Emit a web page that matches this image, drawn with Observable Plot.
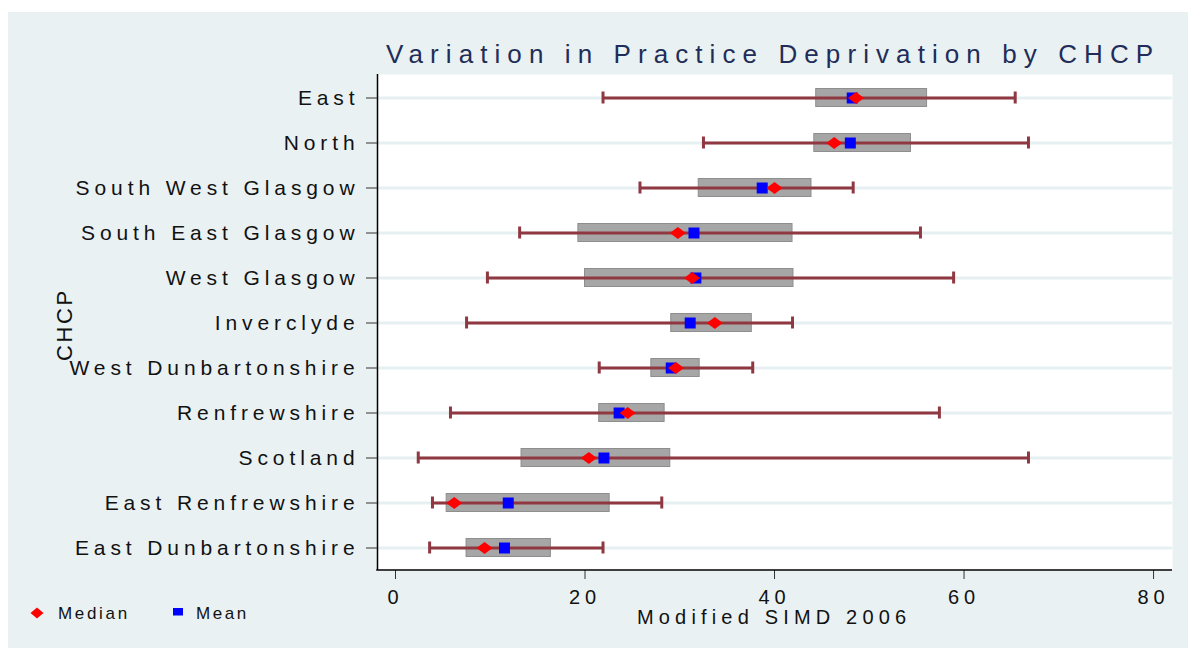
<!DOCTYPE html>
<html><head><meta charset="utf-8">
<script src="https://cdn.jsdelivr.net/npm/d3@7"></script>
<script src="https://cdn.jsdelivr.net/npm/@observablehq/plot@0.6"></script>
<style>
body{margin:0;background:#fff;}
#wrap{position:relative;width:1188px;height:650px;overflow:hidden;font-family:"Liberation Sans",Arial,sans-serif;}
#panel{position:absolute;left:8px;top:12px;width:1180px;height:636px;background:#e9f1f3;}
#panel svg{position:absolute;left:0;top:0;}
#panel svg text{letter-spacing:4.9px;}
</style></head><body><div id="wrap"><div id="panel"></div></div>
<script>
const areas = ["East","North","South West Glasgow","South East Glasgow","West Glasgow","Inverclyde","West Dunbartonshire","Renfrewshire","Scotland","East Renfrewshire","East Dunbartonshire"];
const minimum = [21.9,32.5,25.8,13.1,9.7,7.5,21.5,5.8,2.4,3.9,3.6];
const lowerQuartile = [44.4,44.2,32.0,19.3,20.0,29.1,27.0,21.5,13.3,5.4,7.5];
const median = [48.6,46.3,40.0,29.8,31.3,33.7,29.6,24.5,20.4,6.2,9.4];
const mean = [48.2,48.0,38.7,31.5,31.7,31.1,29.1,23.6,22.0,11.9,11.5];
const upperQuartile = [56.1,54.4,43.9,41.9,42.0,37.6,32.1,28.4,29.0,22.6,16.4];
const maximum = [65.4,66.8,48.3,55.4,58.9,41.9,37.7,57.4,66.8,28.1,21.9];
const xTicks = [0,20,40,60,80];
const xDomain = [-1.9,82];
const titleText = "Variation in Practice Deprivation by CHCP";
const xLabel = "Modified SIMD 2006";
const yLabel = "CHCP";
const legendLabels = ["Median","Mean"];

const rows = areas.map((name,i)=>({name, lo:minimum[i], q1:lowerQuartile[i], med:median[i], mean:mean[i], q3:upperQuartile[i], hi:maximum[i]}));
const wideDiamond = {draw(ctx,size){const r=Math.sqrt(size/Math.PI); ctx.moveTo(-r,0);ctx.lineTo(0,-0.75*r);ctx.lineTo(r,0);ctx.lineTo(0,0.75*r);ctx.closePath();}};
const wc = "#8f3841";
const plot = Plot.plot({
  width:1180, height:636, marginLeft:369, marginRight:16, marginTop:62, marginBottom:78,
  style:{background:"transparent", fontFamily:"'Liberation Sans', Arial, sans-serif", color:"#111", fontSize:"21px"},
  x:{domain:xDomain, label:null},
  y:{domain:areas, padding:0, label:null},
  marks:[
    Plot.frame({fill:"white", stroke:null}),
    Plot.ruleY(areas, {stroke:"#e6eff1", strokeWidth:3}),
    Plot.barX(rows,{y:"name",x1:"q1",x2:"q3",fill:"#a6a6a6",stroke:"#8e8e8e",strokeWidth:1,insetTop:13.5,insetBottom:13.5}),
    Plot.ruleY(rows,{y:"name",x1:"lo",x2:"hi",stroke:wc,strokeWidth:3}),
    Plot.tickX(rows,{y:"name",x:"lo",stroke:wc,strokeWidth:3,insetTop:16.5,insetBottom:16.5}),
    Plot.tickX(rows,{y:"name",x:"hi",stroke:wc,strokeWidth:3,insetTop:16.5,insetBottom:16.5}),
    Plot.dot(rows,{y:"name",x:"mean",symbol:"square",r:6.2,fill:"#0000ff",stroke:null}),
    Plot.dot(rows,{y:"name",x:"med",symbol:wideDiamond,r:8,fill:"#ff0000",stroke:null}),
    Plot.ruleX([xDomain[0]],{stroke:"#000",strokeWidth:1.5}),
    Plot.axisY({tickSize:11, tickPadding:7, fontSize:21, stroke:"#333", label:null}),
    Plot.axisX({ticks:xTicks, tickSize:9, tickPadding:10, fontSize:20, stroke:"#333", label:null})
  ]
});
document.getElementById("panel").appendChild(plot);
const svg = d3.select(plot);
const xr = plot.scale("x").range, yr = plot.scale("y").range;
svg.append("line").attr("x1",xr[0]-0.75).attr("x2",xr[1]).attr("y1",yr[1]).attr("y2",yr[1]).attr("stroke","#000").attr("stroke-width",1.5);
const g = svg.append("g").attr("text-anchor","start");
g.append("text").text(titleText).attr("x",378).attr("y",51).attr("font-size",26).attr("fill","#1f2d58")
  .attr("textLength",772).attr("lengthAdjust","spacing");
g.append("text").text(xLabel).attr("x",629).attr("y",612).attr("font-size",20).attr("fill","#111")
  .attr("textLength",274).attr("lengthAdjust","spacing");
g.append("text").text(yLabel).attr("transform","translate(64,311.5) rotate(-90)").attr("text-anchor","middle")
  .attr("font-size",22).attr("fill","#111").attr("textLength",75).attr("lengthAdjust","spacing");
// legend
g.append("path").attr("d","M22.5,601 L29,595.5 L35.5,601 L29,606.5 Z").attr("fill","#ff0000");
g.append("text").text(legendLabels[0]).attr("x",50).attr("y",607).attr("font-size",17).attr("fill","#111")
  .attr("textLength",74).attr("lengthAdjust","spacing");
g.append("rect").attr("x",165).attr("y",596).attr("width",10).attr("height",7.5).attr("fill","#0000ff");
g.append("text").text(legendLabels[1]).attr("x",188).attr("y",607).attr("font-size",17).attr("fill","#111")
  .attr("textLength",55).attr("lengthAdjust","spacing");
</script></body></html>
